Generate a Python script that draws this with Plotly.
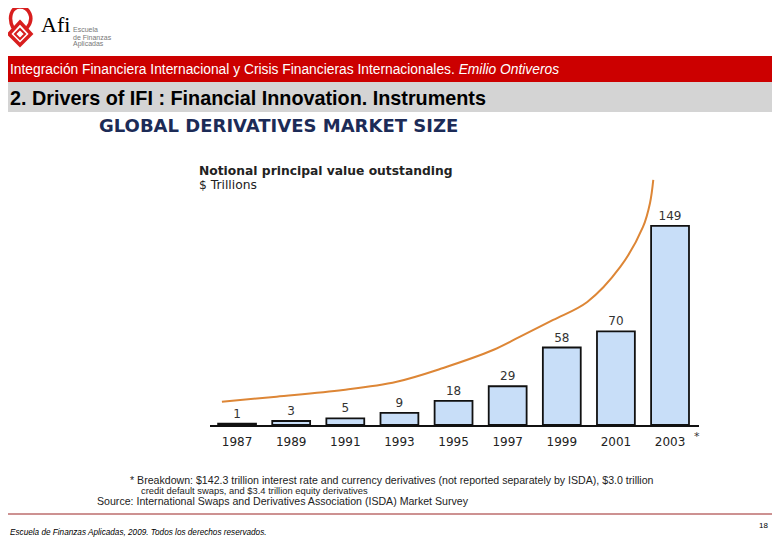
import plotly.graph_objects as go

# ---------------- data ----------------
years = ["1987", "1989", "1991", "1993", "1995", "1997", "1999", "2001", "2003"]
values = [1, 3, 5, 9, 18, 29, 58, 70, 149]
# hand-drawn orange trend curve (x = bar index, y = $ trillions)
trend_x = [-0.28, 0.73, 1.96, 2.95, 3.81, 4.73, 5.23, 5.84, 6.47, 7.08, 7.50, 7.63, 7.69]
trend_y = [17.4, 21.2, 26.2, 32.4, 42.7, 56.1, 66.1, 78.6, 92.1, 118.3, 148.2, 166.2, 183.4]

# page body has an 8px margin: the figure starts at page pixel (8, 8)
OX, OY = 8, 8
W, H = 772, 532


def px(x):
    return max(0.0, (x - OX) / W)


def py(y):
    return 1 - (y - OY) / H


idx = list(range(len(years)))

fig = go.Figure()
fig.add_trace(go.Bar(
    x=idx, y=values, width=0.7,
    marker=dict(color="#C8DEF8", line=dict(color="#111111", width=1.8)),
    text=[str(v) for v in values], textposition="outside",
    textfont=dict(family="DejaVu Sans", size=12, color="#333333"),
    cliponaxis=False, hoverinfo="skip",
))
fig.add_trace(go.Scatter(
    x=trend_x, y=trend_y, mode="lines",
    line=dict(color="#DD8636", width=2, shape="spline", smoothing=1.0),
    hoverinfo="skip", cliponaxis=False,
))

shapes = []
shapes.append(dict(type="rect", xref="paper", yref="paper", x0=0, x1=1, y0=py(82), y1=py(56),
                   fillcolor="#CC0000", line=dict(width=0), layer="below"))
shapes.append(dict(type="rect", xref="paper", yref="paper", x0=0, x1=1, y0=py(112), y1=py(82),
                   fillcolor="#D4D4D4", line=dict(width=0), layer="below"))
shapes.append(dict(type="line", xref="paper", yref="paper", x0=0, x1=1, y0=py(514), y1=py(514),
                   line=dict(color="#9B2525", width=1)))


def path(cmds):
    out = []
    for c in cmds:
        if isinstance(c, str):
            out.append(c)
        else:
            out.append("%.5f,%.5f" % (px(c[0]), py(c[1])))
    return " ".join(out)


# logo (decorative knot)
shapes.append(dict(type="path", xref="paper", yref="paper",
                   path=path(["M", (13, 28), "C", (5, 18), (11, 7), (20, 7), "C", (29, 7), (35, 18), (27, 28)]),
                   line=dict(color="#D81E1E", width=3.5)))
shapes.append(dict(type="path", xref="paper", yref="paper",
                   path=path(["M", (20, 22), "L", (31, 34), "L", (20, 45), "L", (9, 34), "Z"]),
                   line=dict(color="#D81E1E", width=3.5)))
shapes.append(dict(type="path", xref="paper", yref="paper",
                   path=path(["M", (20, 29), "L", (25, 34), "L", (20, 39), "L", (15, 34), "Z"]),
                   line=dict(color="#D81E1E", width=2)))

annotations = []


def ann(text, x, y, size, color="#000000", family="Liberation Sans", xanchor="left"):
    annotations.append(dict(text=text, x=px(x), y=py(y), xref="paper", yref="paper",
                            xanchor=xanchor, yanchor="middle", showarrow=False,
                            font=dict(size=size, color=color, family=family)))


ann("Afi", 39, 24, 22, "#000000", "Liberation Serif")
ann("Escuela", 71, 30, 7, "#777777")
ann("de Finanzas", 71, 37, 7, "#777777")
ann("Aplicadas", 71, 44, 7, "#777777")

ann("Integración Financiera Internacional y Crisis Financieras Internacionales. <i>Emilio Ontiveros</i>",
    8, 70, 13.8, "#FFFFFF")
ann("<b>2. Drivers of IFI : Financial Innovation. Instruments</b>", 8, 98, 19.8, "#000000")

ann("<b>GLOBAL DERIVATIVES MARKET SIZE</b>", 278, 125, 18, "#1C2B57", "DejaVu Sans", xanchor="center")
ann("<b>Notional principal value outstanding</b>", 197, 171, 12.3, "#222222", "DejaVu Sans")
ann("$ Trillions", 197, 185, 12.3, "#222222", "DejaVu Sans")

ann("*", 692, 436, 11, "#333333", "DejaVu Sans")

ann("* Breakdown: $142.3 trillion interest rate and currency derivatives (not reported separately by ISDA), $3.0 trillion",
    128, 480, 10.6, "#222222")
ann("credit default swaps, and $3.4 trillion equity derivatives", 139, 490, 9.4, "#222222")
ann("Source: International Swaps and Derivatives Association (ISDA) Market Survey", 95, 501, 10.6, "#222222")

ann("<i>Escuela de Finanzas Aplicadas, 2009. Todos los derechos reservados.</i>", 6, 532, 8.2, "#000000")
ann("18", 770, 525, 8, "#000000", xanchor="right")

fig.update_layout(
    width=W, height=H,
    margin=dict(l=0, r=0, t=0, b=0),
    paper_bgcolor="white", plot_bgcolor="white",
    showlegend=False, hovermode=False,
    shapes=shapes, annotations=annotations,
    xaxis=dict(domain=[px(210), px(699)], range=[-0.5, 8.535],
               tickmode="array", tickvals=idx, ticktext=years,
               tickfont=dict(family="DejaVu Sans", size=12, color="#222222"),
               ticks="", ticklabelstandoff=5,
               showline=True, linecolor="#111111", linewidth=1.5,
               showgrid=False, zeroline=False, fixedrange=True),
    yaxis=dict(domain=[py(425), py(175)], range=[0, 187.1], visible=False,
               showgrid=False, zeroline=False, fixedrange=True),
)

fig.write_html("out.html")
